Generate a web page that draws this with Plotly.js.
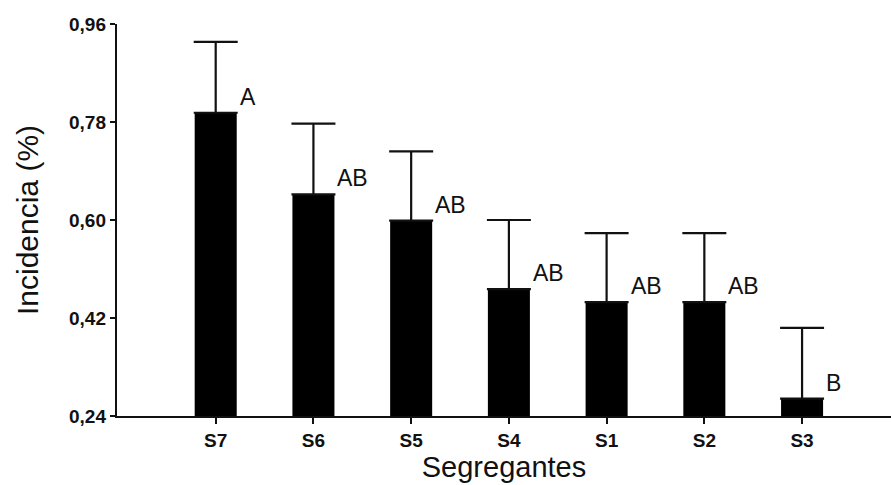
<!DOCTYPE html>
<html>
<head>
<meta charset="utf-8">
<script src="https://cdn.plot.ly/plotly-3.0.1.min.js"></script>
<style>
  html, body { margin: 0; padding: 0; background: #ffffff; }
  #chart { width: 891px; height: 485px; }
</style>
</head>
<body>
<div id="chart"></div>
<script>
// Incidence per segregant (mean with upper error bar) and significance groups
const segregants = ['S7', 'S6', 'S5', 'S4', 'S1', 'S2', 'S3'];
const incidence  = [0.797, 0.647, 0.599, 0.473, 0.449, 0.449, 0.272];
const errUpper   = [0.130, 0.130, 0.127, 0.127, 0.127, 0.127, 0.130];
const groups     = ['A', 'AB', 'AB', 'AB', 'AB', 'AB', 'B'];
const yTicks     = [0.24, 0.42, 0.60, 0.78, 0.96];

const FONT = 'Liberation Sans, Arial, Helvetica, sans-serif';

const bars = {
  type: 'bar',
  x: segregants,
  y: incidence,
  marker: { color: '#000000', line: { width: 0 } },
  error_y: {
    type: 'data',
    symmetric: false,
    array: errUpper,
    arrayminus: errUpper.map(() => 0),
    color: '#111111',
    thickness: 2.2,
    width: 22
  },
  hoverinfo: 'x+y'
};

// group letters sit just right of each bar top
const letters = segregants.map((s, i) => ({
  x: s,
  y: incidence[i],
  xref: 'x',
  yref: 'y',
  text: groups[i],
  showarrow: false,
  xanchor: 'left',
  yanchor: 'bottom',
  xshift: 22,
  yshift: 1,
  font: { family: FONT, size: 23, color: '#111111' }
}));

const layout = {
  width: 891,
  height: 485,
  margin: { l: 117, r: 0, t: 24, b: 69 },
  paper_bgcolor: '#ffffff',
  plot_bgcolor: '#ffffff',
  separators: ',.',
  showlegend: false,
  bargap: 0.57,
  font: { family: FONT, color: '#111111' },
  xaxis: {
    type: 'category',
    categoryorder: 'array',
    categoryarray: segregants,
    range: [-1.01, 6.91],
    showline: true,
    linecolor: '#111111',
    linewidth: 2.2,
    ticks: 'outside',
    ticklen: 6,
    tickwidth: 2,
    tickcolor: '#111111',
    showgrid: false,
    zeroline: false,
    tickfont: { family: FONT, size: 19, color: '#111111', weight: 'bold' },
    title: {
      text: 'Segregantes',
      font: { family: FONT, size: 29, color: '#111111' },
      standoff: 4
    },
    automargin: false,
    fixedrange: true
  },
  yaxis: {
    range: [0.24, 0.96],
    tickvals: yTicks,
    tickformat: '.2f',
    showline: true,
    linecolor: '#111111',
    linewidth: 2.2,
    ticks: 'outside',
    ticklen: 5,
    tickwidth: 2,
    tickcolor: '#111111',
    showgrid: false,
    zeroline: false,
    tickfont: { family: FONT, size: 19, color: '#111111', weight: 'bold' },
    title: {
      text: 'Incidencia (%)',
      font: { family: FONT, size: 30, color: '#111111' },
      standoff: 22
    },
    automargin: false,
    fixedrange: true
  },
  annotations: letters
};

Plotly.newPlot('chart', [bars], layout, { displayModeBar: false, staticPlot: true });
</script>
</body>
</html>
